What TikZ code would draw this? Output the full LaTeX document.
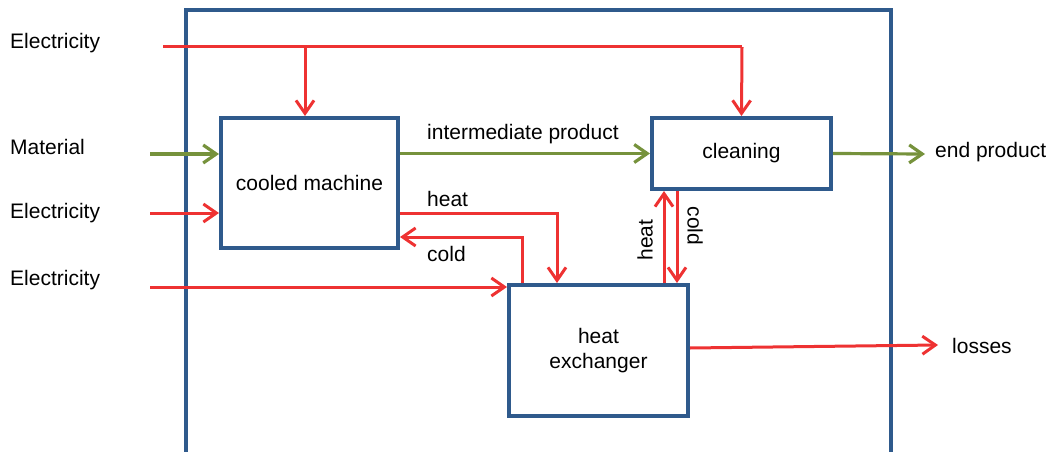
\documentclass[tikz,border=0pt]{standalone}
\usepackage{fontspec}
\setmainfont{Liberation Sans}
\usetikzlibrary{arrows.meta,calc}
\definecolor{boxblue}{RGB}{47,90,140}
\definecolor{flowred}{RGB}{238,50,50}
\definecolor{flowgreen}{RGB}{118,146,60}
\begin{document}
\begin{tikzpicture}[x=1pt,y=-1pt,
  every node/.style={font=\fontsize{21}{25}\selectfont},
  procbox/.style={draw=boxblue,line width=4pt,fill=white,align=center,inner sep=0pt},
  redflow/.style={draw=flowred,line width=3pt,-{Straight Barb[length=13pt,width=18pt,line width=3pt]}},
  redline/.style={draw=flowred,line width=3pt},
  greenflow/.style={draw=flowgreen,line width=3.2pt,-{Straight Barb[length=13pt,width=18pt,line width=3.2pt]}},
  lbl/.style={inner sep=0pt}]
\useasboundingbox (0,0) rectangle (1055,452);
\clip (0,0) rectangle (1055,452);
% outer boundary
\draw[boxblue,line width=4pt] (186,470) -- (186,10) -- (891,10) -- (891,470);
% process boxes
\node[procbox,minimum width=177pt,minimum height=130pt] (cooled) at (309.5,183) {cooled machine};
\node[procbox,minimum width=179pt,minimum height=71pt] (clean) at (741.5,153.5) {cleaning};
\node[procbox,minimum width=179pt,minimum height=131pt] (hx) at (598.5,350.5) {heat\\exchanger};
% input labels
\node[lbl,anchor=west] (lel1) at (10,43) {Electricity};
\node[lbl,anchor=west] (lmat) at (10,147) {Material};
\node[lbl,anchor=west] (lel2) at (10,213) {Electricity};
\node[lbl,anchor=west] (lel3) at (10,280) {Electricity};
\node[lbl,anchor=west] (lend) at (935,152) {end product};
\node[lbl,anchor=west] (lloss) at (952,346) {losses};
% coordinates
\coordinate (e1s) at (163,47);
\coordinate (e1j) at (305,47);
\coordinate (e1c) at (742,47);
\coordinate (ms) at (150,154);
\coordinate (e2s) at (150,213);
\coordinate (e3s) at (150,287);
\coordinate (hy) at (0,213);
\coordinate (hx1) at (557,213);
\coordinate (cy) at (0,237);
\coordinate (cx1) at (522,237);
\coordinate (hv) at (664,0);
\coordinate (cv) at (677,0);
\coordinate (epe) at (925,154);
\coordinate (ly) at (0,348);
\coordinate (le) at (938,345);
% electricity top
\draw[redline] (e1s) -- (e1c);
\draw[redflow] (e1c) -- (clean.north);
\draw[redflow] (e1j) -- (e1j |- cooled.north);
% material
\draw[greenflow] (ms) -- (ms -| cooled.west);
% electricity 2, 3
\draw[redflow] (e2s) -- (e2s -| cooled.west);
\draw[redflow] (e3s) -- (e3s -| hx.west);
% intermediate product
\draw[greenflow] (cooled.east |- clean.west) -- (clean.west);
\node[lbl,anchor=west] (lint) at (427,134) {intermediate product};
% end product
\draw[greenflow] (clean.east) -- (epe);
% heat / cold between cooled and hx
\draw[redflow] (cooled.east |- hy) -- (hx1) -- (hx1 |- hx.north);
\node[lbl,anchor=west] (lheat1) at (427,199) {heat};
\draw[redflow] (cx1 |- hx.north) -- (cx1) -- (cooled.east |- cy);
\node[lbl,anchor=west] (lcold1) at (427,254) {cold};
% heat / cold between hx and cleaning
\draw[redflow] (hv |- hx.north) -- (hv |- clean.south);
\draw[redflow] (cv |- clean.south) -- (cv |- hx.north);
\node[lbl,rotate=90] (lheat2) at (645,240) {heat};
\node[lbl,rotate=-90] (lcold2) at (695,226) {cold};
% losses
\draw[redflow] (hx.east |- ly) -- (le);
\end{tikzpicture}
\end{document}
